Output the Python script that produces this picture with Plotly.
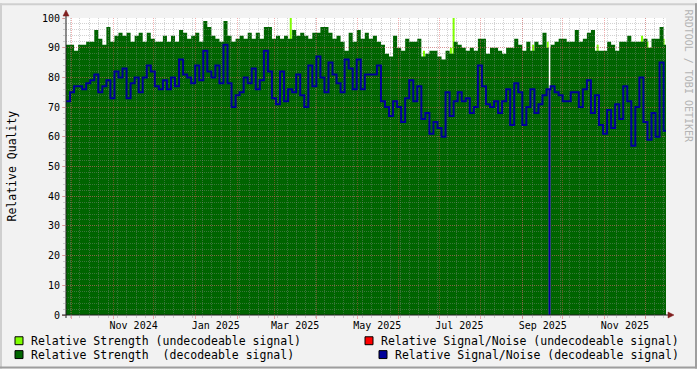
import plotly.graph_objects as go
import pandas as pd

# ---------------- data ----------------
start = pd.Timestamp("2024-09-26 18:30")
end = pd.Timestamp("2025-12-16 13:00")
step_days = 3

strength = [91, 91, 89, 91, 91, 92, 92, 96, 93, 91, 97, 92, 94, 95, 94, 95, 92, 94, 95, 92,
            95, 93, 92, 92, 94, 92, 94, 92, 96, 95, 93, 94, 95, 92, 99, 97, 94, 93, 92, 99,
            94, 92, 93, 94, 93, 95, 93, 95, 93, 97,
            97, 93, 94, 93, 94, 93, 96, 94, 95, 94, 93, 95, 95, 97, 97, 95, 93, 94, 92, 89,
            95, 92, 96, 93, 95, 93, 94, 92, 91, 88, 87, 94, 90, 89, 93, 92, 92, 93, 87, 88,
            89, 89, 87, 86, 89, 88, 92, 91, 90, 89,
            90, 89, 93, 93, 88, 90, 90, 89, 88, 90, 90, 93, 91, 89, 92, 89, 92, 91, 95, 90,
            91, 92, 93, 93, 92, 92, 96, 92, 93, 95, 96, 89, 89, 89, 92, 91, 89, 92, 92, 94,
            92, 92, 92, 93, 90, 93, 93, 97, 91]

snr = [72, 75, 77, 77, 76, 78, 79, 81, 75, 77, 79, 73, 82, 80, 83, 73, 78, 80, 75, 80,
       84, 82, 77, 76, 79, 76, 80, 77, 86, 81, 80, 78, 84, 79, 89, 82, 80, 84, 78, 91,
       78, 70, 74, 75, 80, 78, 83, 76, 79, 89,
       82, 73, 71, 82, 72, 76, 75, 81, 74, 70, 84, 77, 87, 80, 75, 85, 81, 78, 75, 86,
       83, 76, 86, 76, 81, 81, 81, 84, 72, 70, 67, 72, 70, 65, 73, 79, 72, 77, 66, 68,
       61, 65, 63, 60, 75, 67, 72, 75, 72, 73,
       68, 70, 84, 77, 71, 70, 72, 68, 72, 76, 64, 78, 75, 64, 70, 76, 68, 71, 74, 76,
       77, 75, 74, 72, 72, 75, 75, 70, 76, 79, 68, 74, 64, 61, 69, 63, 71, 66, 77, 72,
       57, 70, 80, 65, 59, 68, 60, 85, 62]

undec_dates = ["2025-03-12", "2025-06-19", "2025-07-09", "2025-07-11", "2025-09-08",
               "2025-09-19", "2025-10-26", "2025-11-28", "2025-12-02", "2025-12-14"]
undec_values = [100, 89, 90, 100, 91, 92, 91, 94, 92, 93]

outage_dates = ["2025-09-21"]

x_label_dates = ["2024-11-16", "2025-01-16", "2025-03-16", "2025-05-16",
                 "2025-07-16", "2025-09-16", "2025-11-16"]
x_labels = ["Nov 2024", "Jan 2025", "Mar 2025", "May 2025",
            "Jul 2025", "Sep 2025", "Nov 2025"]
y_ticks = list(range(0, 101, 10))

legend_labels = ["Relative Strength (undecodeable signal)",
                 "Relative Strength  (decodeable signal)",
                 "Relative Signal/Noise (undecodeable signal)",
                 "Relative Signal/Noise (decodeable signal)"]
legend_colors = ["#7fff00", "#006600", "#ff0000", "#000099"]

# ---------------- figure ----------------
W, H = 697, 369
L, R, T, B = 66, 31, 15, 54
PW, PH = W - L - R, H - T - B


def xp(px):
    return (px - L) / PW


def yp(py):
    return (T + PH - py) / PH


step = pd.Timedelta(days=step_days)
dates = [start + i * step for i in range(len(strength))]
xs = dates + [dates[-1] + step]
ys_str = strength + [strength[-1]]
ys_snr = snr + [snr[-1]]

GREEN = "#006400"
BLUE = "#000099"
LIGHT = "#7fff00"
MGRID = "rgba(222,79,79,0.45)"
GRID = "rgba(143,143,143,0.4)"

fig = go.Figure()

# --- areas (bottom subplot) ---
fig.add_trace(go.Bar(x=undec_dates, y=undec_values, width=1.5 * 86400000, offset=0,
                     marker=dict(color=LIGHT, line=dict(width=0)),
                     hoverinfo="skip", showlegend=False))

fig.add_trace(go.Scatter(x=xs, y=ys_str, mode="lines",
                         line=dict(width=0, shape="hv", color=GREEN),
                         fill="tozeroy", fillcolor=GREEN,
                         hoverinfo="skip", showlegend=False))

for d in outage_dates:
    dt = pd.Timestamp(d)
    fig.add_trace(go.Scatter(x=[dt, dt], y=[0, 100], mode="lines",
                             line=dict(color="#ffffff", width=1.5),
                             hoverinfo="skip", showlegend=False))

# --- lines (top subplot, above the grid) ---
fig.add_trace(go.Scatter(x=xs, y=ys_snr, mode="lines", xaxis="x2", yaxis="y2",
                         line=dict(width=2, shape="hv", color=BLUE),
                         hoverinfo="skip", showlegend=False))

for d in outage_dates:
    dt = pd.Timestamp(d)
    idx = int((dt - start) / step)
    fig.add_trace(go.Scatter(x=[dt, dt], y=[0, snr[idx]], mode="lines", xaxis="x2", yaxis="y2",
                             line=dict(color=BLUE, width=2),
                             hoverinfo="skip", showlegend=False))

month_starts = pd.date_range("2024-10-01", "2025-12-01", freq="MS")

fig.update_layout(
    width=W, height=H,
    margin=dict(l=L, r=R, t=T, b=B, pad=0),
    paper_bgcolor="#F2F2F2", plot_bgcolor="rgba(0,0,0,0)",
    showlegend=False, barmode="overlay",
    font=dict(family="DejaVu Sans Mono", size=10, color="#000000"),
    xaxis=dict(domain=[0, 1], anchor="y", type="date", range=[start, end],
               tickmode="array", tickvals=x_label_dates, ticktext=x_labels,
               showgrid=False, zeroline=False, showline=False, ticks="",
               ticklabelstandoff=3, tickfont=dict(size=10)),
    yaxis=dict(domain=[0, 1], anchor="x", range=[0, 100], visible=False),
    xaxis2=dict(domain=[0, 1], anchor="y2", type="date", range=[start, end],
                tickmode="array", tickvals=list(month_starts), showticklabels=False,
                showgrid=True, gridcolor=MGRID, gridwidth=1, griddash="1px,1px",
                ticks="outside", ticklen=3, tickcolor=MGRID, tickwidth=1,
                zeroline=False, showline=False,
                minor=dict(dtick=7 * 86400000, tick0="2024-09-30", showgrid=True,
                           gridcolor=GRID, gridwidth=1, griddash="1px,1px",
                           ticks="outside", ticklen=2, tickcolor=GRID)),
    yaxis2=dict(domain=[0, 1], anchor="x2", range=[0, 100],
                tickmode="array", tickvals=y_ticks, showgrid=True,
                gridcolor=MGRID, gridwidth=1, griddash="1px,1px",
                ticks="outside", ticklen=3, tickcolor=MGRID, tickwidth=1,
                zeroline=False, showline=False, tickfont=dict(size=10),
                minor=dict(dtick=2, showgrid=True, gridcolor=GRID, gridwidth=1,
                           griddash="1px,1px", ticks="outside", ticklen=2,
                           tickcolor=GRID)),
)

shapes = []
# canvas (white) below everything
shapes.append(dict(type="rect", xref="paper", yref="paper", x0=0, x1=1, y0=0, y1=1,
                   fillcolor="#FFFFFF", line=dict(width=0), layer="below"))
# frame shading
shapes.append(dict(type="rect", xref="paper", yref="paper", x0=xp(0), x1=xp(W), y0=yp(0), y1=yp(2),
                   fillcolor="#CFCFCF", line=dict(width=0), layer="below"))
shapes.append(dict(type="rect", xref="paper", yref="paper", x0=xp(0), x1=xp(2), y0=yp(0), y1=yp(H),
                   fillcolor="#CFCFCF", line=dict(width=0), layer="below"))
shapes.append(dict(type="rect", xref="paper", yref="paper", x0=xp(0), x1=xp(W), y0=yp(H - 2), y1=yp(H),
                   fillcolor="#9E9E9E", line=dict(width=0), layer="below"))
shapes.append(dict(type="rect", xref="paper", yref="paper", x0=xp(W - 2), x1=xp(W), y0=yp(0), y1=yp(H),
                   fillcolor="#9E9E9E", line=dict(width=0), layer="below"))
# axis lines
shapes.append(dict(type="line", xref="paper", yref="paper", x0=xp(62), x1=xp(669), y0=0, y1=0,
                   line=dict(color="#1f1f1f", width=1)))
shapes.append(dict(type="line", xref="paper", yref="paper", x0=0, x1=0, y0=yp(318), y1=yp(12),
                   line=dict(color="#1f1f1f", width=1)))
# arrows
shapes.append(dict(type="path", xref="paper", yref="paper",
                   path=f"M {xp(668)},{yp(312)} L {xp(674)},{yp(315)} L {xp(668)},{yp(318)} Z",
                   fillcolor="#801f1f", line=dict(color="#801f1f", width=0.5)))
shapes.append(dict(type="path", xref="paper", yref="paper",
                   path=f"M {xp(63)},{yp(13)} L {xp(66)},{yp(7)} L {xp(69)},{yp(13)} Z",
                   fillcolor="#801f1f", line=dict(color="#801f1f", width=0.5)))

# legend squares
sq = [(15, 337), (15, 351), (365, 337), (379, 351)]
txt = [(29, 341), (29, 355), (379, 341), (393, 355)]
annotations = []
for (sx, sy), (tx, ty), lab, col in zip(sq, txt, legend_labels, legend_colors):
    shapes.append(dict(type="rect", xref="paper", yref="paper",
                       x0=xp(sx), x1=xp(sx + 8), y0=yp(sy + 8), y1=yp(sy),
                       fillcolor=col, line=dict(color="#000000", width=1)))
    annotations.append(dict(xref="paper", yref="paper", x=xp(tx), y=yp(ty),
                            text=lab, showarrow=False, xanchor="left", yanchor="middle",
                            font=dict(family="DejaVu Sans Mono", size=11.5, color="#000000")))

annotations.append(dict(xref="paper", yref="paper", x=xp(11), y=0.5, text="Relative Quality",
                        textangle=-90, showarrow=False, xanchor="center", yanchor="middle",
                        font=dict(family="DejaVu Sans Mono", size=11.5, color="#000000")))
annotations.append(dict(xref="paper", yref="paper", x=xp(688), y=yp(4), text="RRDTOOL / TOBI OETIKER",
                        textangle=90, showarrow=False, xanchor="center", yanchor="top",
                        font=dict(family="DejaVu Sans Mono", size=10, color="#b4b4b4")))

fig.update_layout(shapes=shapes, annotations=annotations)

fig.write_html("out.html")
